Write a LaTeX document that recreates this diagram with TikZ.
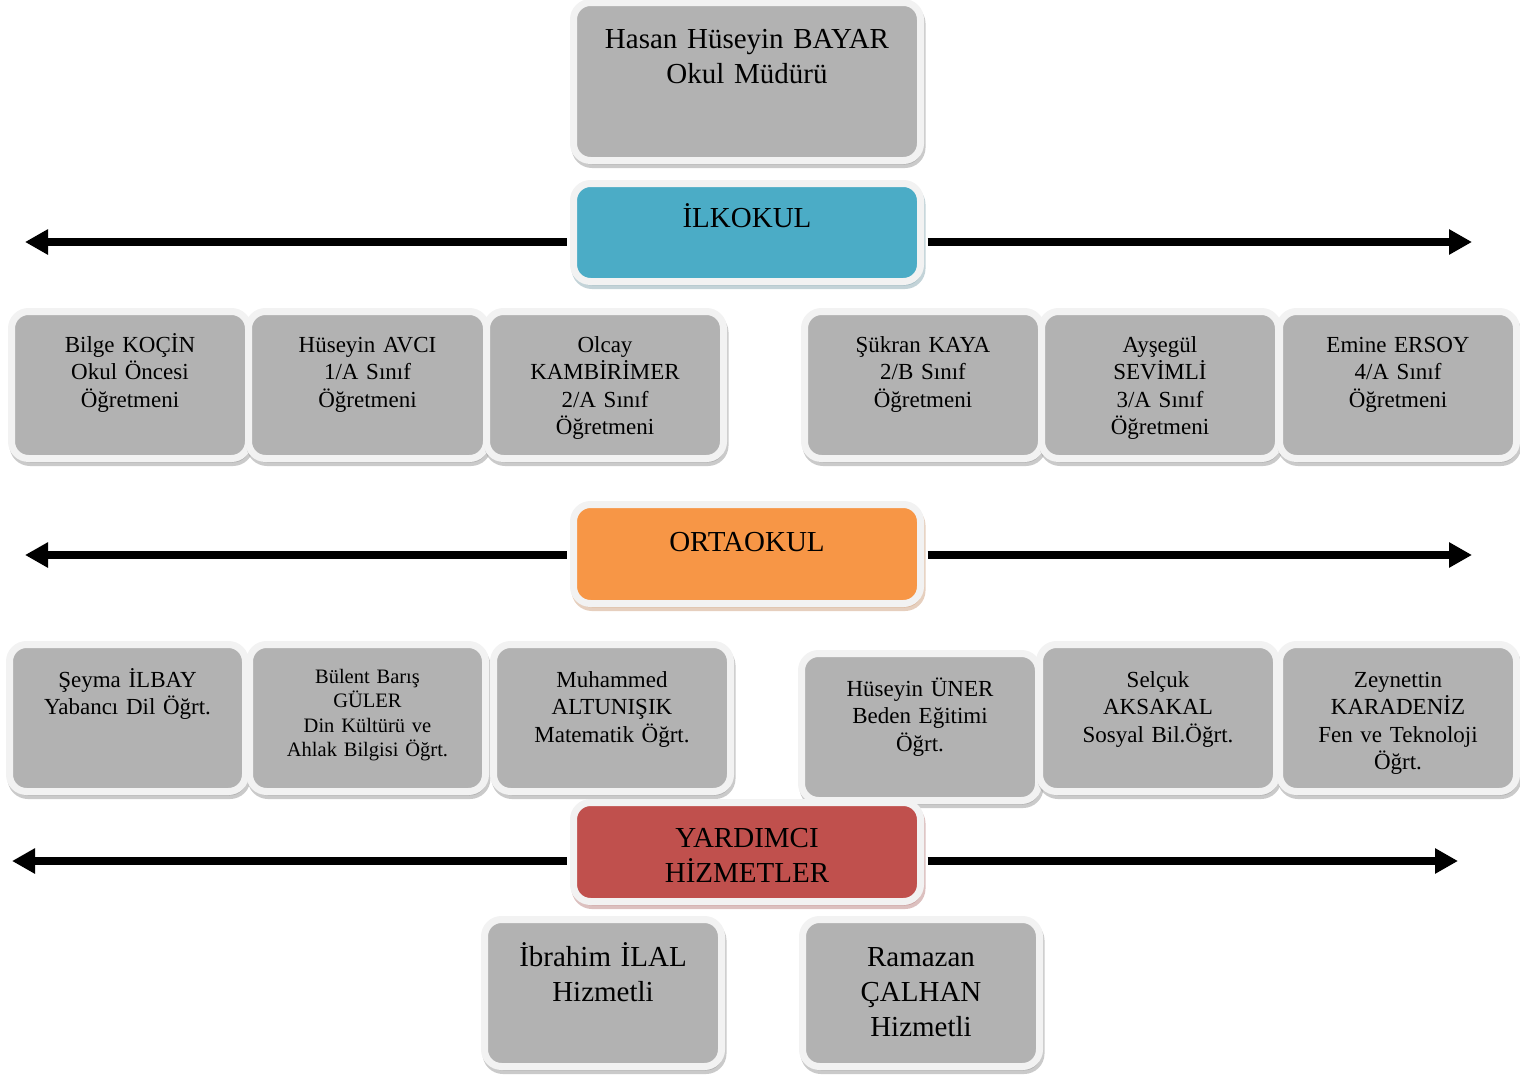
\documentclass[tikz,border=0pt]{standalone}
\usepackage{fontspec}
\setmainfont{Liberation Serif}
\usetikzlibrary{arrows.meta,shadows}
\definecolor{boxgray}{RGB}{178,178,178}
\definecolor{rim}{RGB}{242,242,242}
\definecolor{shgray}{RGB}{150,150,150}
\definecolor{ilkc}{RGB}{75,172,198}
\definecolor{ilksh}{RGB}{135,168,178}
\definecolor{ortc}{RGB}{247,150,70}
\definecolor{ortsh}{RGB}{205,160,125}
\definecolor{yrdc}{RGB}{192,80,77}
\definecolor{yrdsh}{RGB}{185,130,128}
\newcommand\BigF{\fontsize{29}{35}\selectfont}
\newcommand\MidF{\fontsize{23}{27.5}\selectfont}
\newcommand\SmlF{\fontsize{20.5}{24.5}\selectfont}
% name, x1, y1, x2, y2, first baseline, style, text
\newcommand\obox[8]{%
  \pgfmathsetmacro\oxc{(#2+#4)/2}%
  \pgfmathsetmacro\oyc{(#3+#5)/2}%
  \pgfmathsetmacro\obw{#4-#2+7}%
  \pgfmathsetmacro\obh{#5-#3+7}%
  \pgfmathsetmacro\otw{#4-#2-10}%
  \pgfmathsetmacro\oth{#6-#3+3.5}%
  \pgfmathsetmacro\otd{#5+3.5-#6}%
  \node[#7, minimum width=\obw pt, minimum height=\obh pt, text width=\otw pt,
        text height=\oth pt, text depth=\otd pt] (#1) at (\oxc,\oyc) {#8};%
}
\begin{document}
\begin{tikzpicture}[x=1pt,y=-1pt,
  obase/.style={rectangle, rounded corners=17pt, draw=rim, line width=7pt,
    inner sep=0pt, align=center, text=black},
  graybox/.style={obase, fill=boxgray,
    drop shadow={shadow xshift=1.5pt, shadow yshift=-4pt, fill=shgray, draw=shgray, line width=7pt}},
  ilkbox/.style={obase, fill=ilkc, font=\BigF,
    drop shadow={shadow xshift=1.5pt, shadow yshift=-4pt, fill=ilksh, draw=ilksh, line width=7pt}},
  ortbox/.style={obase, fill=ortc, font=\BigF,
    drop shadow={shadow xshift=1.5pt, shadow yshift=-4pt, fill=ortsh, draw=ortsh, line width=7pt}},
  yrdbox/.style={obase, fill=yrdc, font=\BigF,
    drop shadow={shadow xshift=1.5pt, shadow yshift=-4pt, fill=yrdsh, draw=yrdsh, line width=7pt}},
  bigbox/.style={graybox, font=\BigF},
  midbox/.style={graybox, font=\MidF},
  smlbox/.style={graybox, font=\SmlF},
  arrowline/.style={line width=8pt, shorten <=3.5pt, -{Triangle[length=23pt,width=24pt]}}
]
\useasboundingbox (0,0) rectangle (1520,1079);

\obox{mudur}{577}{6}{917}{157}{48}{bigbox}{Hasan Hüseyin BAYAR\\Okul Müdürü}
\obox{ilk}{577}{187}{917}{278}{227}{ilkbox}{İLKOKUL}

\obox{ta}{15}{315}{245}{455}{352}{midbox}{Bilge KOÇİN\\Okul Öncesi\\Öğretmeni}
\obox{tb}{252}{315}{483}{455}{352}{midbox}{Hüseyin AVCI\\1/A Sınıf\\Öğretmeni}
\obox{tc}{490}{315}{720}{455}{352}{midbox}{Olcay\\KAMBİRİMER\\2/A Sınıf\\Öğretmeni}
\obox{td}{808}{315}{1038}{455}{352}{midbox}{Şükran KAYA\\2/B Sınıf\\Öğretmeni}
\obox{te}{1045}{315}{1275}{455}{352}{midbox}{Ayşegül\\SEVİMLİ\\3/A Sınıf\\Öğretmeni}
\obox{tf}{1283}{315}{1513}{455}{352}{midbox}{Emine ERSOY\\4/A Sınıf\\Öğretmeni}

\obox{ort}{577}{508}{917}{600}{551}{ortbox}{ORTAOKUL}

\obox{oa}{13}{648}{242}{788}{687}{midbox}{Şeyma İLBAY\\Yabancı Dil Öğrt.}
\obox{ob}{253}{648}{482}{788}{683}{smlbox}{Bülent Barış\\GÜLER\\Din Kültürü ve\\Ahlak Bilgisi Öğrt.}
\obox{oc}{497}{648}{727}{788}{687}{midbox}{Muhammed\\ALTUNIŞIK\\Matematik Öğrt.}
\obox{od}{805}{657}{1035}{797}{696}{midbox}{Hüseyin ÜNER\\Beden Eğitimi\\Öğrt.}
\obox{oe}{1043}{648}{1273}{788}{687}{midbox}{Selçuk\\AKSAKAL\\Sosyal Bil.Öğrt.}
\obox{of}{1283}{648}{1513}{788}{687}{midbox}{Zeynettin\\KARADENİZ\\Fen ve Teknoloji\\Öğrt.}

\obox{yrd}{577}{806}{917}{898}{847}{yrdbox}{YARDIMCI\\HİZMETLER}

\obox{ha}{488}{923}{718}{1063}{966}{bigbox}{İbrahim İLAL\\Hizmetli}
\obox{hb}{806}{923}{1036}{1063}{966}{bigbox}{Ramazan\\ÇALHAN\\Hizmetli}

\coordinate (ilkL) at (25,242);
\coordinate (ilkR) at (1472,242);
\coordinate (ortL) at (25,555);
\coordinate (ortR) at (1472,555);
\coordinate (yrdL) at (12,861);
\coordinate (yrdR) at (1458,861);

\draw[arrowline] (ilk.west |- ilkL) -- (ilkL);
\draw[arrowline] (ilk.east |- ilkR) -- (ilkR);
\draw[arrowline] (ort.west |- ortL) -- (ortL);
\draw[arrowline] (ort.east |- ortR) -- (ortR);
\draw[arrowline] (yrd.west |- yrdL) -- (yrdL);
\draw[arrowline] (yrd.east |- yrdR) -- (yrdR);
\end{tikzpicture}
\end{document}
